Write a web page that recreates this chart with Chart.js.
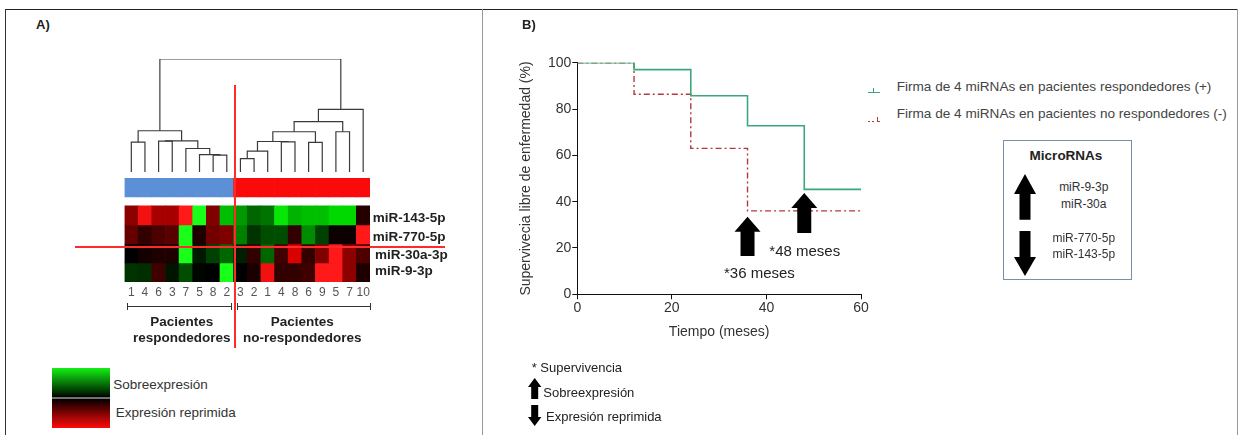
<!DOCTYPE html>
<html><head><meta charset="utf-8">
<script src="https://cdn.jsdelivr.net/npm/chart.js@4.4.1/dist/chart.umd.min.js"></script>
<style>
html,body{margin:0;padding:0;background:#fff;}
body{width:1243px;height:435px;position:relative;overflow:hidden;font-family:"Liberation Sans",Arial,sans-serif;color:#222;}
canvas{position:absolute;}
.t{position:absolute;white-space:nowrap;line-height:1;}
.ln{position:absolute;}
</style></head><body>
<canvas id="dendro" width="266" height="133" style="left:114px;top:49px;width:266px;height:133px"></canvas>
<canvas id="heat" width="266" height="134" style="left:114px;top:168px;width:266px;height:134px"></canvas>
<canvas id="surv" width="390" height="435" style="left:490px;top:0px;width:390px;height:435px"></canvas>
<script>
// ---------------- DATA ----------------
// Panel A: patients in dendrogram order (8 responders, 10 non-responders)
const patients = ['1','4','6','3','7','5','8','2','3','2','1','4','8','6','9','5','7','10'];
const groups   = ['R','R','R','R','R','R','R','R','N','N','N','N','N','N','N','N','N','N'];
const mirnas   = ['miR-143-5p','miR-770-5p','miR-30a-3p','miR-9-3p'];
// relative expression (+ = sobreexpresión / green, - = expresión reprimida / red)
const expr143 = [-0.55,-0.95,-0.65,-0.65,-1.0, 1.0,-0.5, 0.75,  0.6, 0.4, 0.45, 0.9, 0.7, 0.75, 0.75, 0.85, 0.85,-0.15];
const expr770 = [-0.4,-0.2,-0.3,-0.35, 1.0,-0.12,-0.45,-0.5,   0.5, 0.2, 0.3, 0.3,-0.2, 0.55, 0.25,-0.05,-0.05,-1.0];
const expr30a = [ 0.0,-0.08,-0.12,-0.12, 1.0, 0.1, 0.25, 0.4,  0.12,-0.2, 0.4,-0.25,-0.85,-0.2,-0.5,-1.0,-0.55,-0.3];
const expr93p = [ 0.2, 0.18,-0.25, 0.08, 0.3, 0.02, 0.0, 1.0,  0.0,-0.1,-0.95,-0.2,-0.2,-0.25,-1.0,-1.0,-0.55,-0.12];
// Dendrogram merges: [childA, childB, height]; ids 0-17 = leaves, 18+ = merges in order
const merges = [
  [0,1,2.64],[6,7,1.49],[5,19,1.53],[4,20,2.08],[2,3,2.73],[22,21,2.75],[18,23,3.65],
  [8,9,1.19],[25,10,1.84],[11,12,2.67],[26,27,2.70],[13,14,2.62],[28,29,3.56],[15,16,3.56],
  [30,31,4.45],[32,17,5.55],[24,33,10]
];
// Panel B: Kaplan-Meier
const months = [0,12,24,36,48,60];
const survRespond   = [100,97,85.7,72.8,45.3,45.3];
const survNoRespond = [100,86.4,63,36,36,36];
const xTicks = [0,20,40,60];
const yTicks = [0,20,40,60,80,100];
// annotation arrows (month, tip value, base value)
const arrowMonths = [36,48];
const arrowTips   = [33.5,43.7];
const arrowBases  = [16.5,26.5];

// ---------------- HELPERS ----------------
const FAM = '"Liberation Sans", Arial, sans-serif';
Chart.defaults.font.family = FAM;
function T(txt, x, cy, size, o={}) {
  const d = document.createElement('div'); d.className='t'; d.textContent = txt;
  d.style.fontSize = size+'px'; d.style.fontWeight = o.bold ? 'bold' : 'normal';
  d.style.color = o.color || '#222'; d.style.left = x+'px'; d.style.top = cy+'px';
  const tx = o.align==='center' ? '-50%' : o.align==='right' ? '-100%' : '0';
  d.style.transform = `translate(${tx},-50%)`; document.body.appendChild(d);
}
function L(x, y, w, h, color, z) {
  const d = document.createElement('div'); d.className='ln';
  d.style.left=x+'px'; d.style.top=y+'px'; d.style.width=w+'px'; d.style.height=h+'px';
  d.style.backgroundColor=color; d.style.zIndex=String(z||1);
  document.body.appendChild(d);
}
function arrow(x, y, w, h, headH, shaftW, dir) {
  const ns='http://www.w3.org/2000/svg';
  const s=document.createElementNS(ns,'svg'); s.setAttribute('width',w); s.setAttribute('height',h);
  s.style.position='absolute'; s.style.left=x+'px'; s.style.top=y+'px';
  const c=w/2, a=c-shaftW/2, b=c+shaftW/2;
  let pts = [[c,0],[w,headH],[b,headH],[b,h],[a,h],[a,headH],[0,headH]];
  if (dir==='down') pts = pts.map(p=>[p[0],h-p[1]]);
  const p=document.createElementNS(ns,'polygon'); p.setAttribute('points',pts.map(q=>q.join(',')).join(' '));
  p.setAttribute('fill','#000'); s.appendChild(p); document.body.appendChild(s);
}
function heatColor(v) {
  const a = Math.min(1, Math.abs(v));
  const c = Math.round(255*a), w = Math.round(25*Math.max(0,a-0.85)/0.15);
  return v >= 0 ? `rgb(${w},${c},${w})` : `rgb(${c},${w},${w})`;
}

// ---------------- PANEL A: DENDROGRAM ----------------
const pos = patients.map((_,i)=>i), hgt = patients.map(()=>0);
const dendroSets = [];
merges.forEach(([a,b,h]) => {
  dendroSets.push({data:[{x:pos[a],y:hgt[a]},{x:pos[a],y:h},{x:pos[b],y:h},{x:pos[b],y:hgt[b]}],
    showLine:true, borderColor:'#3a3a3a', borderWidth:1.2, pointRadius:0, fill:false});
  pos.push((pos[a]+pos[b])/2); hgt.push(h);
});
new Chart(document.getElementById('dendro'), {
  type:'scatter', data:{datasets:dendroSets},
  options:{responsive:false, animation:false, events:[],
    layout:{padding:{left:10.5,right:10,top:10,bottom:10}},
    plugins:{legend:{display:false},tooltip:{enabled:false}},
    scales:{x:{type:'linear',display:false,min:-0.5,max:17.5},y:{display:false,min:0,max:10}}}
});

// ---------------- PANEL A: HEATMAP ----------------
const rows = [expr143, expr770, expr30a, expr93p];
const heatSets = rows.map((vals,r)=>({label:mirnas[r], data:vals.map(()=>[3-r,4-r]),
  backgroundColor:vals.map(heatColor), borderWidth:0, grouped:false, barPercentage:1, categoryPercentage:1}));
heatSets.push({label:'grupo', data:groups.map(()=>[4.47,5.47]),
  backgroundColor:groups.map(g=>g==='R'?'#5b8fd6':'#fa0a0a'), borderWidth:0, grouped:false, barPercentage:1, categoryPercentage:1});
new Chart(document.getElementById('heat'), {
  type:'bar', data:{labels:patients, datasets:heatSets},
  options:{responsive:false, animation:false, events:[],
    layout:{padding:{left:10.5,right:10,top:10,bottom:0}},
    plugins:{legend:{display:false},tooltip:{enabled:false}},
    scales:{
      x:{grid:{display:false,drawTicks:false}, border:{display:false},
         ticks:{color:'#555',font:{size:12},padding:3,maxRotation:0,autoSkip:false},
         afterFit:s=>{s.height=20;}},
      y:{display:false,min:0,max:5.47}}}
});

// ---------------- PANEL B: SURVIVAL ----------------
const arrowPlugin = {
  id:'arrows',
  afterDatasetsDraw(chart){
    const {ctx, scales:{x,y}} = chart;
    ctx.save(); ctx.fillStyle='#000';
    arrowMonths.forEach((m,i)=>{
      const px=x.getPixelForValue(m), ty=y.getPixelForValue(arrowTips[i]), by=y.getPixelForValue(arrowBases[i]);
      const hw=13, hh=15, sw=7;
      ctx.beginPath(); ctx.moveTo(px,ty); ctx.lineTo(px+hw,ty+hh); ctx.lineTo(px+sw,ty+hh); ctx.lineTo(px+sw,by);
      ctx.lineTo(px-sw,by); ctx.lineTo(px-sw,ty+hh); ctx.lineTo(px-hw,ty+hh); ctx.closePath(); ctx.fill();
    });
    ctx.restore();
  }
};
new Chart(document.getElementById('surv'), {
  type:'line',
  data:{datasets:[
    {label:'Firma de 4 miRNAs en pacientes respondedores (+)', data:months.map((m,i)=>({x:m,y:survRespond[i]})),
     stepped:'before', borderColor:'#3aa87b', borderWidth:1.6, pointRadius:0, fill:false},
    {label:'Firma de 4 miRNAs en pacientes no respondedores (-)', data:months.map((m,i)=>({x:m,y:survNoRespond[i]})),
     stepped:'before', borderColor:'#b23a3a', borderWidth:1.4, borderDash:[6,3,2,3], pointRadius:0, fill:false}
  ]},
  options:{responsive:false, animation:false, events:[],
    layout:{padding:{left:0,right:19,top:62.7,bottom:90.7}},
    plugins:{legend:{display:false},tooltip:{enabled:false}},
    scales:{
      x:{type:'linear',min:0,max:60, afterBuildTicks:s=>{s.ticks=xTicks.map(v=>({value:v}));},
         grid:{drawOnChartArea:false,drawTicks:true,tickLength:5,color:'#111'}, border:{color:'#111',width:1},
         ticks:{color:'#333',font:{size:14},padding:0,maxRotation:0},
         title:{display:true,text:'Tiempo (meses)',color:'#333',font:{size:14},padding:{top:0,bottom:4}},
         afterFit:s=>{s.height=50;}},
      y:{min:0,max:100, afterBuildTicks:s=>{s.ticks=yTicks.map(v=>({value:v}));},
         grid:{drawOnChartArea:false,drawTicks:true,tickLength:5,color:'#111'}, border:{color:'#111',width:1},
         ticks:{color:'#333',font:{size:14},padding:1},
         title:{display:true,text:'Supervivecia libre de enfermedad (%)',color:'#333',font:{size:14},padding:{top:27.6,bottom:0}},
         afterFit:s=>{s.width=87.3;}}}},
  plugins:[arrowPlugin]
});

// ---------------- FRAME & DECORATIONS ----------------
L(5,9,1233,1,'#222'); L(5,9,1,426,'#333'); L(482,9,1,426,'#999'); L(1237,9,1,426,'#999');
// red separator lines (panel A)
L(234,85,2,263,'#ff2a2a',5); L(75,246,370,2,'#ff2a2a',5);
// brackets
L(127,306,105,1,'#333'); L(127,303,1,7,'#333'); L(231,303,1,7,'#333');
L(237,306,134,1,'#333'); L(237,303,1,7,'#333'); L(370,303,1,7,'#333');
// colour scale legend
const g=document.createElement('div');
Object.assign(g.style,{position:'absolute',left:'52.3px',top:'368.3px',width:'57.7px',height:'60px',
  background:'linear-gradient(to bottom,#14f014 0%,#003000 40%,#000 48.5%,#aaa 49.5%,#aaa 50.5%,#000 51.5%,#300000 60%,#ff0a0a 100%)'});
document.body.appendChild(g);

// texts panel A
T('A)',36,24,13,{bold:true});
T('miR-143-5p',372.7,218.3,13.5,{bold:true});
T('miR-770-5p',372.7,237.3,13.5,{bold:true});
T('miR-30a-3p',375,255,13.5,{bold:true});
T('miR-9-3p',375,270.7,13.5,{bold:true});
T('Pacientes',181.7,321.7,13.5,{bold:true,align:'center'});
T('respondedores',181.7,338.3,13.5,{bold:true,align:'center'});
T('Pacientes',302.3,321.7,13.5,{bold:true,align:'center'});
T('no-respondedores',302.3,338.3,13.5,{bold:true,align:'center'});
T('Sobreexpresión',113.3,385,13.5,{color:'#333'});
T('Expresión reprimida',115.7,413.3,13.5,{color:'#333'});

// texts panel B
T('B)',522,24,13,{bold:true});
T('*36 meses',724,272,15,{color:'#222'});
T('*48 meses',769.3,250,15,{color:'#222'});
// legend
L(868,92,12,1,'#3aa87b'); L(873,88,1,4,'#3aa87b');
L(868,121,2,1,'#b23a3a'); L(872,121,2,1,'#b23a3a'); L(877,117,1,5,'#b23a3a'); L(877,121,3,1,'#b23a3a');
T('Firma de 4 miRNAs en pacientes respondedores (+)',896.7,86.7,13.6,{color:'#444'});
T('Firma de 4 miRNAs en pacientes no respondedores (-)',896.7,114.3,13.6,{color:'#444'});
// microRNA box
const bx=document.createElement('div');
Object.assign(bx.style,{position:'absolute',left:'1002.7px',top:'140px',width:'127px',height:'137.5px',border:'1.5px solid #7690a6'});
document.body.appendChild(bx);
T('MicroRNAs',1066,155.7,13.5,{bold:true,align:'center'});
arrow(1014,174.3,22,45.7,20,11,'up');
arrow(1014,231,22,45,19,11,'down');
T('miR-9-3p',1083.8,186.7,12,{align:'center',color:'#333'});
T('miR-30a',1083.8,204.3,12,{align:'center',color:'#333'});
T('miR-770-5p',1083.8,238.3,12,{align:'center',color:'#333'});
T('miR-143-5p',1083.8,254,12,{align:'center',color:'#333'});
// bottom key
T('* Supervivencia',531.7,366.7,13,{color:'#222'});
arrow(528.3,377.7,13.4,21.6,9,7,'up');
T('Sobreexpresión',543.3,392.3,13,{color:'#222'});
arrow(528.3,405,13.4,21,9,7,'down');
T('Expresión reprimida',546,416.3,13,{color:'#222'});
</script>
</body></html>
